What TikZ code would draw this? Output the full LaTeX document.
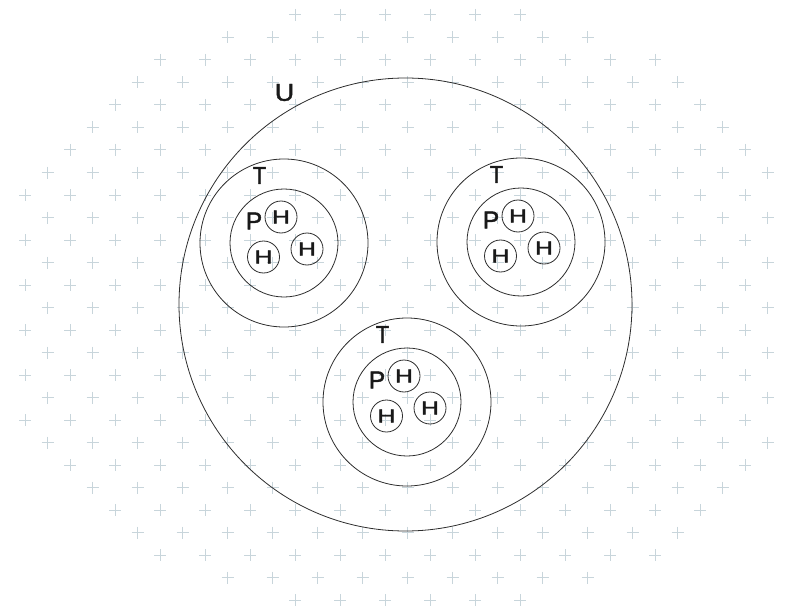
\documentclass[tikz,border=0pt]{standalone}
\usepackage{graphicx}
\usepackage{fontspec}
\setmainfont{Liberation Sans}
\newfontfamily\labelfont{Liberation Sans}[FakeBold=1.6]
\usetikzlibrary{positioning}
\definecolor{gridblue}{RGB}{200,213,219}
\definecolor{ringgray}{RGB}{45,45,45}
\newcommand{\wideH}{\scalebox{1.3}[1]{H}}
\newcommand{\slimT}{\scalebox{0.88}[1]{T}}

\begin{document}
\begin{tikzpicture}[x=1pt, y=-1pt,
    ring/.style={draw=ringgray, line width=0.8pt, circle, inner sep=0pt},
    lbl/.style={inner sep=0pt, text=black!90, font=\labelfont\fontsize{24.5}{25}\selectfont},
    hatom/.style={ring, minimum size=32pt, text=black!90, font=\labelfont\fontsize{19}{19}\selectfont},
    cross/.style={gridblue, line width=1pt}
  ]
  \useasboundingbox (0,0) rectangle (787,607);
  % faint crosses in the background
  \foreach \k in {0,...,26} {
    \foreach \j in {0,...,17} {
      \pgfmathsetmacro{\gx}{(mod(\k,2)==1 ? 2.5 : 25) + 45*\j}
      \pgfmathsetmacro{\gy}{15 + 22.5*\k}
      \pgfmathsetmacro{\dx}{\gx-407.5}
      \pgfmathsetmacro{\dy}{\gy-307.5}
      \pgfmathtruncatemacro{\keep}{(abs(\dx)+abs(\dy)<=500) && (abs(\dx)<=395) && ((\dx/511)^2+(\dy/300)^2<=1) && (\gx<=775)}
      \ifnum\keep=1
        \draw[cross] (\gx-6,\gy) -- (\gx+6,\gy) (\gx,\gy-6) -- (\gx,\gy+6);
      \fi
    }
  }
  % universe
  \node[ring, minimum size=453pt] (U) at (405.5,304.5) {};
  \node[lbl] (ulbl) at (284.5,92.5) {\scalebox{1.1}[1]{U}};
  % the three T groups
  \foreach \g/\cx/\cy in {a/284/243, b/521/242, c/407/402} {
    \node[ring, minimum size=168pt] (T\g) at (\cx,\cy) {};
    \node[ring, minimum size=108pt] (P\g) at (\cx,\cy) {};
    \node[lbl] (T\g lbl) at (\cx-24.5,\cy-67.5) {\slimT};
    \node[lbl] (P\g lbl) at (\cx-30,\cy-22) {P};
    \node[hatom] (H\g1) at (\cx-3,\cy-26) {\wideH};
    \node[hatom] (H\g2) at (\cx-20.5,\cy+14) {\wideH};
    \node[hatom] (H\g3) at (\cx+23,\cy+6) {\wideH};
  }
\end{tikzpicture}
\end{document}
